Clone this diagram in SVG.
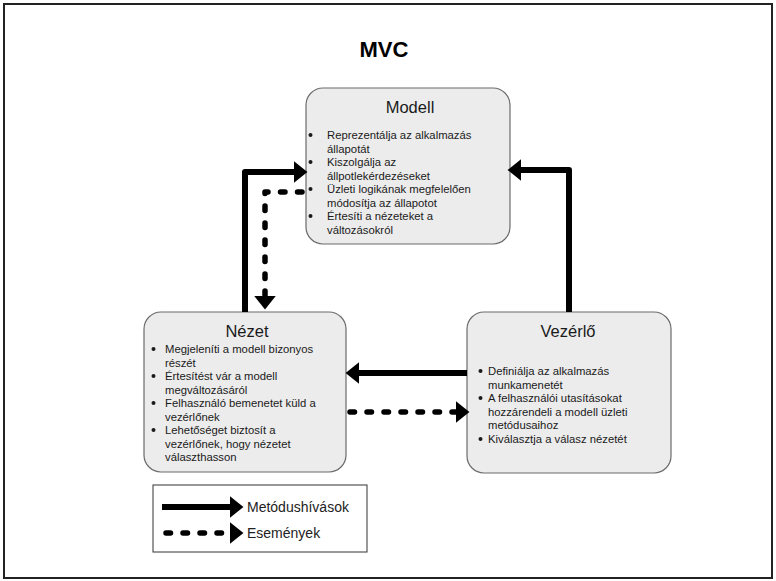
<svg xmlns="http://www.w3.org/2000/svg" width="776" height="581" viewBox="0 0 776 581">
  <defs>
    <marker id="head" markerUnits="userSpaceOnUse" markerWidth="14" markerHeight="22" refX="0" refY="10" viewBox="0 0 13 20" orient="auto" overflow="visible">
      <path d="M0,0 L12.5,10 L0,20 z" fill="#000"/>
    </marker>
  </defs>
  <style>
    .frame { fill: #fff; stroke: #222; stroke-width: 2; }
    .box { fill: #ececec; stroke: #6b6b6b; stroke-width: 1.2; }
    .title { font-family: "Liberation Sans", Arial, sans-serif; font-size: 16.5px; fill: #1a1a1a; text-anchor: middle; }
    .txt { font-family: "Liberation Sans", Arial, sans-serif; font-size: 11.3px; fill: #1a1a1a; }
    .bul { fill: #1a1a1a; }
    .solid { fill: none; stroke: #000; stroke-width: 6; stroke-linejoin: round; marker-end: url(#head); }
    .dash { fill: none; stroke: #000; stroke-width: 5.5; stroke-dasharray: 4.5 12.5; stroke-linecap: round; stroke-linejoin: round; marker-end: url(#head); }
    .legend { fill: #fff; stroke: #333; stroke-width: 1; }
    .ltxt { font-family: "Liberation Sans", Arial, sans-serif; font-size: 14px; fill: #222; }
  </style>

  <rect class="frame" x="4" y="4" width="768" height="574"/>
  <text x="384" y="57" font-family="Liberation Sans, Arial, sans-serif" font-size="22" font-weight="bold" text-anchor="middle" fill="#000">MVC</text>

  <g id="modell">
    <rect class="box" x="306" y="88" width="204" height="156" rx="17"/>
    <text class="title" x="410" y="113">Modell</text>
    <circle class="bul" cx="310.5" cy="135" r="2"/>
    <circle class="bul" cx="310.5" cy="162" r="2"/>
    <circle class="bul" cx="310.5" cy="189" r="2"/>
    <circle class="bul" cx="310.5" cy="216" r="2"/>
    <text class="txt" x="327" y="139">Reprezentálja az alkalmazás</text>
    <text class="txt" x="327" y="152.5">állapotát</text>
    <text class="txt" x="327" y="166">Kiszolgálja az</text>
    <text class="txt" x="327" y="179.5">állpotlekérdezéseket</text>
    <text class="txt" x="327" y="193">Üzleti logikának megfelelően</text>
    <text class="txt" x="327" y="206.5">módosítja az állapotot</text>
    <text class="txt" x="327" y="220">Értesíti a nézeteket a</text>
    <text class="txt" x="327" y="233.5">változásokról</text>
  </g>

  <g id="nezet">
    <rect class="box" x="144" y="312" width="202" height="160" rx="17"/>
    <text class="title" x="247" y="337">Nézet</text>
    <circle class="bul" cx="153.5" cy="349" r="2"/>
    <circle class="bul" cx="153.5" cy="376" r="2"/>
    <circle class="bul" cx="153.5" cy="403" r="2"/>
    <circle class="bul" cx="153.5" cy="430" r="2"/>
    <text class="txt" x="165" y="353">Megjeleníti a modell bizonyos</text>
    <text class="txt" x="165" y="366.5">részét</text>
    <text class="txt" x="165" y="380">Értesítést vár a modell</text>
    <text class="txt" x="165" y="393.5">megváltozásáról</text>
    <text class="txt" x="165" y="407">Felhasználó bemenetet küld a</text>
    <text class="txt" x="165" y="420.5">vezérlőnek</text>
    <text class="txt" x="165" y="434">Lehetőséget biztosít a</text>
    <text class="txt" x="165" y="447.5">vezérlőnek, hogy nézetet</text>
    <text class="txt" x="165" y="461">választhasson</text>
  </g>

  <g id="vezerlo">
    <rect class="box" x="467" y="312" width="204" height="161" rx="17"/>
    <text class="title" x="568" y="337">Vezérlő</text>
    <circle class="bul" cx="480.5" cy="371" r="2"/>
    <circle class="bul" cx="480.5" cy="398" r="2"/>
    <circle class="bul" cx="480.5" cy="439" r="2"/>
    <text class="txt" x="488" y="375">Definiálja az alkalmazás</text>
    <text class="txt" x="488" y="388.5">munkamenetét</text>
    <text class="txt" x="488" y="402">A felhasználói utasításokat</text>
    <text class="txt" x="488" y="415.5">hozzárendeli a modell üzleti</text>
    <text class="txt" x="488" y="429">metódusaihoz</text>
    <text class="txt" x="488" y="442.5">Kiválasztja a válasz nézetét</text>
  </g>

  <g id="connectors">
    <path class="solid" d="M245,312 V172 H294"/>
    <path class="dash" d="M302,192 H265 V296"/>
    <path class="solid" d="M569,312 V170 H521"/>
    <path class="solid" d="M467,373 H359"/>
    <path class="dash" d="M350,412 H456"/>
  </g>

  <g id="legend">
    <rect class="legend" x="153" y="485" width="214" height="67"/>
    <path class="solid" d="M162,507 H230"/>
    <path class="dash" d="M166,533 H230"/>
    <text class="ltxt" x="247" y="512">Metódushívások</text>
    <text class="ltxt" x="247" y="538">Események</text>
  </g>
</svg>
